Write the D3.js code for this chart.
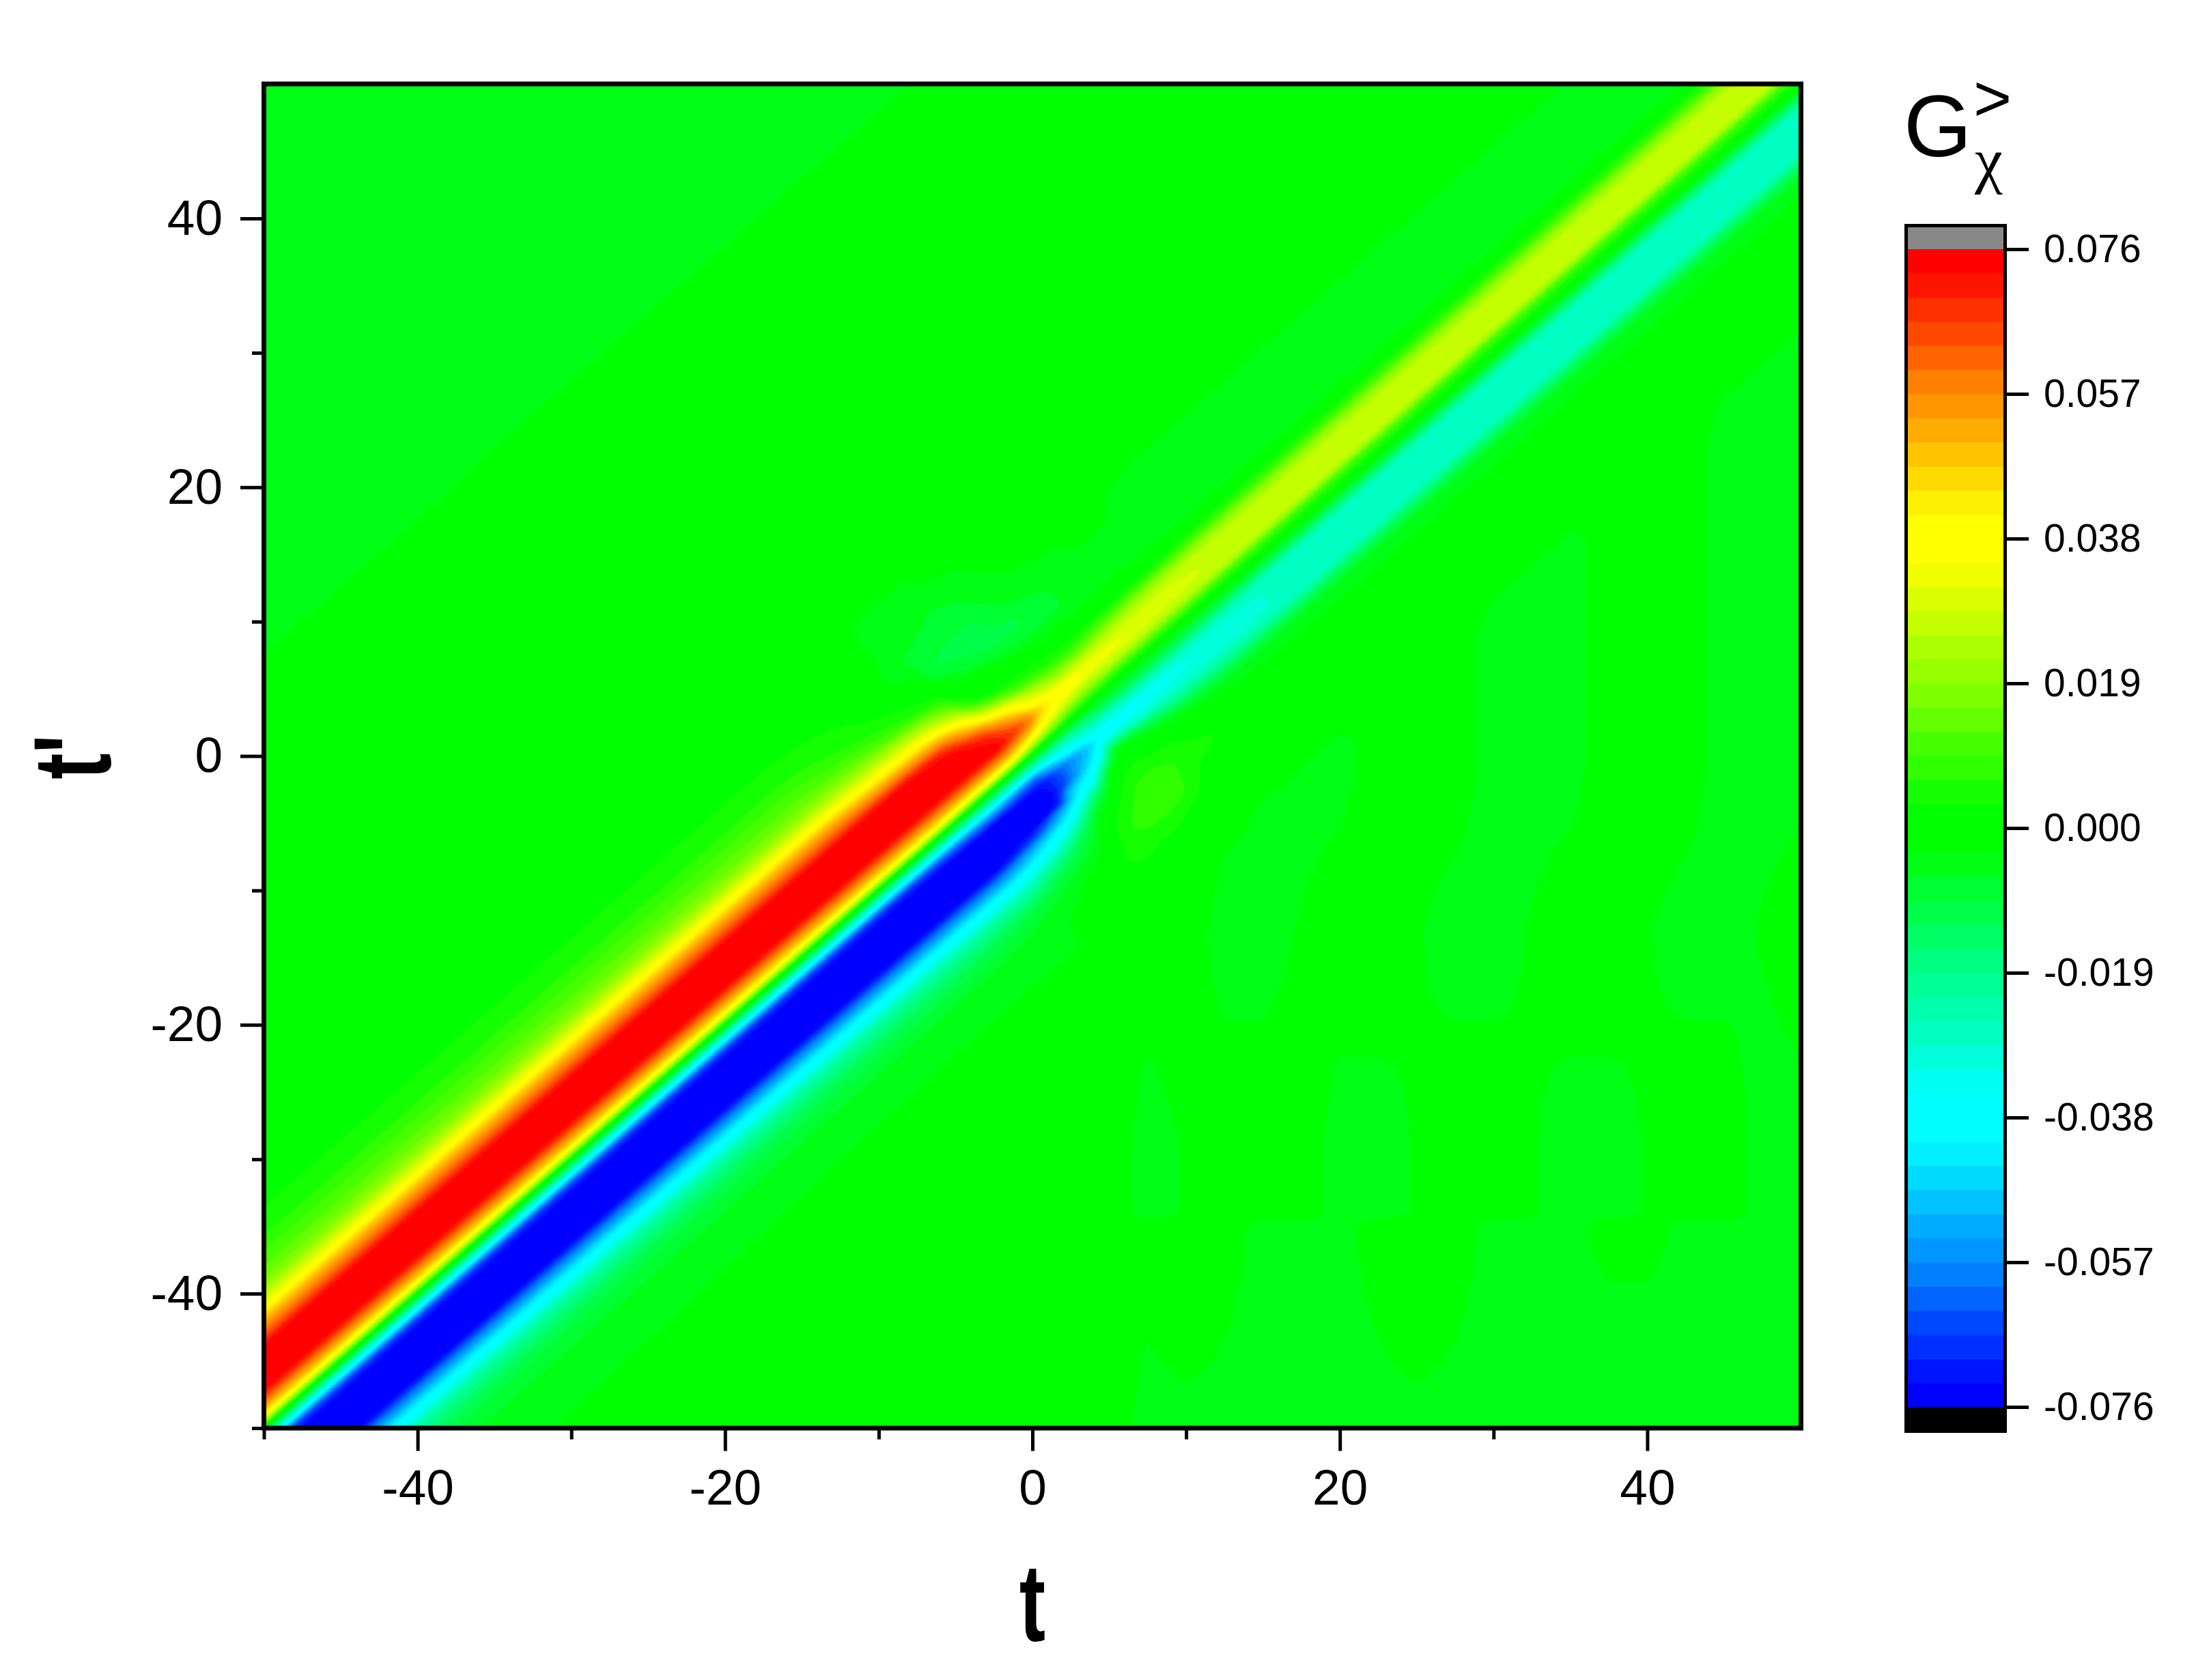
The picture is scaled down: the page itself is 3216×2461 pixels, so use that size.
<!DOCTYPE html>
<html>
<head>
<meta charset="utf-8">
<script src="https://cdnjs.cloudflare.com/ajax/libs/d3/7.8.5/d3.min.js"></script>
<style>
  html, body { margin: 0; padding: 0; background: #fff; }
  svg { display: block; }
  text { font-family: "Liberation Sans", Arial, sans-serif; fill: #000; }
</style>
</head>
<body>
<svg id="chart" width="3216" height="2461"></svg>
<script>
// tick labels
var axisMajor = [-40, -20, 0, 20, 40];
var axisMinor = [-50, -30, -10, 10, 30];
var barTicks = [0.076, 0.057, 0.038, 0.019, 0, -0.019, -0.038, -0.057, -0.076];

// colour map: 48 levels, 12 per rainbow segment
var levelCount = 48;
var levelMax = 0.076;
var bandRamp = [0, 20, 48, 72, 100, 128, 150, 172, 195, 218, 240, 255];

// G values, in 1/1000, as cross sections of the diagonal.
// sCols = t - t', midTimes = (t + t') / 2, one row of fieldRows per midTime
var sCols = [-100, -60, -35, -27, -22, -18, -15, -13, -11, -9.5, -8, -7, -6, -5, -4, -3, -2, -1, 0, 1, 2, 3, 4, 5, 6, 7, 8, 9, 10, 12, 14, 17, 20, 30];
var midTimes = [-50, -10, -6, -3, -1, 0, 1, 2, 3, 4, 5, 7, 10, 15, 30, 50];
var fieldRows = [
  [-3.5,-3.2,-2.5,-2,0.5,2,5,10,17,31,51,63,74,76,76,74,60,40,0,-34,-68,-76,-76,-76,-74,-60,-45,-33,-22,-11,-6,-4,-1,0],
  [-3.5,-3.2,-2.5,-2,0.5,2,5,10,17,31,51,63,74,76,76,74,60,40,0,-34,-68,-76,-76,-76,-74,-60,-45,-33,-22,-11,-5,-2,0,0],
  [-3.5,-3.2,-2.5,-2.5,0,1.5,3.5,6,14,27,46,61,74,76,76,74,60,40,0,-32,-64,-76,-76,-76,-74,-60,-45,-33,-22,-9,-4,-2,0,0],
  [-3.5,-3.2,-2.5,-2.5,-2,0,0,2,7,22,41,56,70,76,76,74,60,38,-1,-30,-60,-75,-76,-76,-68,-50,-38,-26,-15,-5,-1,1,0,0],
  [-3.5,-3.2,-2.5,-2.5,-3,-4,-6,-2,2,10,24,38,50,64,72,74,60,38,-2,-30,-62,-73,-74,-72,-52,-38,-24,-12,-6,-1,3.2,1,0,0],
  [-3.5,-3.2,-2.5,-2.5,-3,-5,-7,-9,-3,0,6,18,35,50,62,68,55,32,-2,-28,-52,-66,-65,-50,-40,-24,-10,-3,1,4.5,5,1,0,0],
  [-3.5,-3.2,-2.5,-2.5,-3,-5,-8,-10,-7,-1,1,7,22,38,50,60,48,26,-3,-24,-42,-56,-52,-42,-30,-12,-3,2,5,7,5,1,0,0],
  [-3.5,-3.2,-2.5,-2.5,-3,-6,-8,-11,-9,-4,1,4,11,26,36,46,38,20,-3,-22,-36,-48,-42,-28,-7,0,4,6,7,8,5,1,0,0],
  [-3.5,-3.2,-2.5,-2.5,-2,-5,-8,-10,-10,-6,0,3,8,18,30,39,32,15,-3,-18,-30,-39,-24,-5,0,3,5,7,8,8,4,1,0,0],
  [-3.5,-3.2,-2.5,-2.5,-2,-4,-6,-8,-10,-7,-2,2,5,14,26,37,28,13,-3,-15,-30,-37,-26,-8,-1,2,4,6,7,6,3,0,0,0],
  [-3.5,-3.2,-2.5,-2.5,-2,-3,-4,-6,-9,-7,-3,1,5,13,26,34,27,12,-3,-14,-28,-36,-29,-14,-4,1,3,4,4,3,1,0,0,0],
  [-3.5,-3.2,-2.5,-2.5,-1,-2,-3,-4,-6,-6,-3,0,6,16,27,32,27,11,-3,-13,-27,-33,-30,-21,-10,-3,0,2,3,2,0,0,0,0],
  [-3.5,-3.2,-2.5,-2.5,-2,-2.5,-3,-3,-4,-4,-3,0,7,19,28,30,26,11,-2,-13,-26,-31,-30,-24,-14,-6,-3,-1,0,0,0,0,0,0],
  [-3.5,-3.2,-2.5,-2.5,-2,-2.5,-3.3,-4,-4,-4,-3.5,1,8,20,27,27.5,26,10,-1,-14,-27,-28,-28,-26,-15,-6,-3.5,-2.5,-1,0,0,0,0,0],
  [-3.5,-3.2,-2.5,-2.5,-2,-2.5,-3.3,-4,-4,-4,-3.5,1,8,20,27,27.5,26,10,0,-14,-27,-28,-28,-26,-15,-6,-3.5,-2.5,-1,0,0,0,0,0],
  [-3.5,-3.2,-2.5,-2.5,-2,-2.5,-3.3,-4,-4,-4,-3.5,1,8,20,27,27.5,26,10,0,-14,-27,-28,-28,-26,-15,-6,-3.5,-2.5,-1,0,0,0,0,0]
];

// faint stripes in the lower right of the map, also in 1/1000
var stripeT = [5, 7.5, 10, 12.5, 15, 17.5, 20, 22.5, 25, 27.5, 30, 32.5, 35, 37.5, 40, 42.5, 45, 47.5, 50];
var stripeTp = [-50, -42, -35, -34, -29, -13, 0];
var stripeRows = [
  [-2,-4,-4,-4,-4,-4,-4,-4,-4,-4,-4,-4,-4,-4,-4,-4,-4,-4,-4],
  [-2,-3,-2,-3,-4,-4,-4,-3,-2,-3,-4,-4,-4,-4,-4,-4,-4,-4,-4],
  [-2,-2,-2,-2,-4,-4,-4,-2,-2,-2,-4,-4,-4,-2,-2,-4,-4,-4,-4],
  [-2,-4,-3,-2,-2,-2,-4,-4,-3,-2,-2,-3,-4,-4,-3,-2,-2,-4,-4],
  [-2,-4,-3,-2,-2,-2,-4,-4,-3,-2,-2,-3,-4,-4,-3,-2,-2,-4,-4],
  [-2,-2,-2,-4,-4,-3,-2,-2,-3,-4,-4,-3,-2,-2,-3,-4,-4,-3,-2],
  [-2,-2,-2,-2,-4,-4,-4,-2,-2,-2,-4,-4,-4,-2,-2,-2,-4,-4,-4]
];

var svg = d3.select("#chart");

var xScale = d3.scaleLinear().domain([-50, 50]).range([386.5, 2637.5]);
var yScale = d3.scaleLinear().domain([-50, 50]).range([2092, 123]);
var barY = d3.scaleLinear().domain([-levelMax, levelMax]).range([2061, 365]);

// palette of the 48 bands, blue to red
function bandColor(i) {
  if (i < 12) return d3.rgb(0, bandRamp[i], 255) + "";
  if (i < 24) return d3.rgb(0, 255, bandRamp[23 - i]) + "";
  if (i < 36) return d3.rgb(bandRamp[i - 24], 255, 0) + "";
  return d3.rgb(255, bandRamp[47 - i], 0) + "";
}
var bandStep = 2 * levelMax / levelCount;
var levels = d3.range(levelCount).map(function(i) {
  return { i: i, low: -levelMax + i * bandStep, high: -levelMax + (i + 1) * bandStep, color: bandColor(i) };
});

// monotone cubic tangents, keeps the plateaus flat
function tangents(xs, ys) {
  var n = xs.length, d = [], m = new Array(n);
  for (var i = 0; i < n - 1; i++) d[i] = (ys[i + 1] - ys[i]) / (xs[i + 1] - xs[i]);
  m[0] = d[0];
  m[n - 1] = d[n - 2];
  for (var k = 1; k < n - 1; k++) {
    if (d[k - 1] * d[k] <= 0) { m[k] = 0; continue; }
    var w1 = 2 * (xs[k + 1] - xs[k]) + (xs[k] - xs[k - 1]);
    var w2 = (xs[k + 1] - xs[k]) + 2 * (xs[k] - xs[k - 1]);
    m[k] = (w1 + w2) / (w1 / d[k - 1] + w2 / d[k]);
  }
  return m;
}

function hermite(xs, ys, ms, x) {
  if (x <= xs[0]) return ys[0];
  if (x >= xs[xs.length - 1]) return ys[ys.length - 1];
  var i = d3.bisectRight(xs, x) - 1;
  var h = xs[i + 1] - xs[i], u = (x - xs[i]) / h, u2 = u * u, u3 = u2 * u;
  return (2 * u3 - 3 * u2 + 1) * ys[i] + (u3 - 2 * u2 + u) * h * ms[i] +
         (-2 * u3 + 3 * u2) * ys[i + 1] + (u3 - u2) * h * ms[i + 1];
}

// cross sections at a fine step of (t + t') / 2
var colData = sCols.map(function(s, c) {
  var ys = fieldRows.map(function(r) { return r[c]; });
  return { ys: ys, ms: tangents(midTimes, ys) };
});
var fineStep = 0.25;
var fineRows = d3.range(0, 401).map(function(k) {
  var T = -50 + k * fineStep;
  var ys = colData.map(function(c) { return hermite(midTimes, c.ys, c.ms, T); });
  return { ys: ys, ms: tangents(sCols, ys) };
});

function stripeAt(t, tp) {
  var cx = Math.max(stripeT[0], Math.min(stripeT[stripeT.length - 1] - 1e-6, t));
  var cy = Math.max(stripeTp[0], Math.min(stripeTp[stripeTp.length - 1] - 1e-6, tp));
  var i = d3.bisectRight(stripeT, cx) - 1, j = d3.bisectRight(stripeTp, cy) - 1;
  var fx = (cx - stripeT[i]) / (stripeT[i + 1] - stripeT[i]);
  var fy = (cy - stripeTp[j]) / (stripeTp[j + 1] - stripeTp[j]);
  var a = stripeRows[j][i] * (1 - fx) + stripeRows[j][i + 1] * fx;
  var b = stripeRows[j + 1][i] * (1 - fx) + stripeRows[j + 1][i + 1] * fx;
  return a * (1 - fy) + b * fy;
}

function fieldAt(t, tp) {
  var s = t - tp, T = (t + tp) / 2;
  var q = Math.max(0, Math.min(399.999, (T + 50) / fineStep));
  var k = Math.floor(q), f = q - k;
  var a = fineRows[k], b = fineRows[k + 1];
  var v = hermite(sCols, a.ys, a.ms, s) * (1 - f) + hermite(sCols, b.ys, b.ms, s) * f;
  if (s > 12) v += stripeAt(t, tp) * Math.min(1, (s - 12) / 8);
  return Math.max(-76, Math.min(76, v)) / 1000;
}

// sample the map on a grid a little larger than the plot, then contour it
var cell = 3;
var originX = xScale.range()[0] - 2 * cell;
var originY = yScale.range()[1] - 2 * cell;
var gridW = Math.ceil((xScale.range()[1] - xScale.range()[0]) / cell) + 4;
var gridH = Math.ceil((yScale.range()[0] - yScale.range()[1]) / cell) + 4;
var gridValues = new Float64Array(gridW * gridH);
for (var j = 0; j < gridH; j++) {
  var tp = yScale.invert(originY + (j + 0.5) * cell);
  for (var i = 0; i < gridW; i++) {
    gridValues[j * gridW + i] = fieldAt(xScale.invert(originX + (i + 0.5) * cell), tp);
  }
}

var contourGen = d3.contours().size([gridW, gridH]).thresholds(levels.slice(1).map(function(d) { return d.low; }));
var shapes = contourGen(gridValues);

svg.append("defs").append("clipPath").attr("id", "plotClip")
  .append("rect")
    .attr("x", xScale.range()[0])
    .attr("y", yScale.range()[1])
    .attr("width", xScale.range()[1] - xScale.range()[0])
    .attr("height", yScale.range()[0] - yScale.range()[1]);

var mapLayer = svg.append("g").attr("clip-path", "url(#plotClip)");

mapLayer.append("rect")
    .attr("x", xScale.range()[0])
    .attr("y", yScale.range()[1])
    .attr("width", xScale.range()[1] - xScale.range()[0])
    .attr("height", yScale.range()[0] - yScale.range()[1])
    .attr("fill", levels[0].color);

var pathGen = d3.geoPath();
mapLayer.append("g")
    .attr("transform", "translate(" + originX + "," + originY + ") scale(" + cell + ")")
  .selectAll("path")
  .data(shapes)
  .enter().append("path")
    .attr("d", pathGen)
    .attr("fill", function(d, i) { return levels[i + 1].color; });

// axes
function styleAxis(g) {
  g.select(".domain").remove();
  g.selectAll("line").attr("stroke", "#000").attr("stroke-width", 5);
}

// plain hyphen as in the original, not the minus sign d3.format gives
function plainFormat(spec) {
  var fmt = d3.format(spec);
  return function(d) { return fmt(d).replace("\u2212", "-"); };
}

var bottomY = yScale.range()[0], leftX = xScale.range()[0];

svg.append("g").attr("transform", "translate(0," + bottomY + ")")
  .call(d3.axisBottom(xScale).tickValues(axisMinor).tickSize(16.5).tickFormat(""))
  .call(styleAxis);
svg.append("g").attr("transform", "translate(0," + bottomY + ")")
  .call(d3.axisBottom(xScale).tickValues(axisMajor).tickSize(33.5).tickPadding(27).tickFormat(plainFormat("d")))
  .call(styleAxis)
  .selectAll("text")
    .attr("font-family", '"Liberation Sans", Arial, sans-serif')
    .style("font-size", "73px");

svg.append("g").attr("transform", "translate(" + leftX + ",0)")
  .call(d3.axisLeft(yScale).tickValues(axisMinor).tickSize(17.5).tickFormat(""))
  .call(styleAxis);
svg.append("g").attr("transform", "translate(" + leftX + ",0)")
  .call(d3.axisLeft(yScale).tickValues(axisMajor).tickSize(34.5).tickPadding(26).tickFormat(plainFormat("d")))
  .call(styleAxis)
  .selectAll("text")
    .attr("font-family", '"Liberation Sans", Arial, sans-serif')
    .style("font-size", "73px");

// plot frame
svg.append("rect")
    .attr("x", xScale.range()[0])
    .attr("y", yScale.range()[1])
    .attr("width", xScale.range()[1] - xScale.range()[0])
    .attr("height", yScale.range()[0] - yScale.range()[1])
    .attr("fill", "none")
    .attr("stroke", "#000")
    .attr("stroke-width", 7);

// axis titles, the original glyphs are stretched to be tall
svg.append("text")
    .attr("transform", "translate(" + xScale(0) + ",2404) scale(1,1.41)")
    .attr("text-anchor", "middle")
    .attr("font-weight", "bold")
    .style("font-size", "115px")
    .text("t");

svg.append("text")
    .attr("transform", "translate(162,1109) rotate(-90) scale(1,1.41)")
    .attr("text-anchor", "middle")
    .attr("font-weight", "bold")
    .style("font-size", "115px")
    .text("t'");

// colour bar
var barLeft = 2791.5, barRight = 2936.5;
svg.append("g").selectAll("rect")
  .data(levels)
  .enter().append("rect")
    .attr("x", barLeft)
    .attr("y", function(d) { return barY(d.high); })
    .attr("width", barRight - barLeft)
    .attr("height", function(d) { return barY(d.low) - barY(d.high) + 0.5; })
    .attr("fill", function(d) { return d.color; });

svg.append("rect")
    .attr("x", barLeft).attr("y", 330.5)
    .attr("width", barRight - barLeft).attr("height", barY(levelMax) - 330.5)
    .attr("fill", "#888888");
svg.append("rect")
    .attr("x", barLeft).attr("y", barY(-levelMax))
    .attr("width", barRight - barLeft).attr("height", 2096.5 - barY(-levelMax))
    .attr("fill", "#000");
svg.append("rect")
    .attr("x", barLeft).attr("y", 330.5)
    .attr("width", barRight - barLeft).attr("height", 2096.5 - 330.5)
    .attr("fill", "none")
    .attr("stroke", "#000")
    .attr("stroke-width", 5);

svg.append("g").attr("transform", "translate(" + barRight + ",0)")
  .call(d3.axisRight(barY).tickValues(barTicks).tickSize(34.5).tickPadding(22).tickFormat(plainFormat(".3f")))
  .call(styleAxis)
  .selectAll("text")
    .attr("font-family", '"Liberation Sans", Arial, sans-serif')
    .style("font-size", "57px");

// colour bar title
svg.append("text").attr("x", 2788).attr("y", 229).style("font-size", "128px").text("G");
svg.append("text").attr("x", 2890).attr("y", 177).style("font-size", "96px").text(">");
svg.append("text")
    .attr("x", 2892).attr("y", 266)
    .style("font-size", "92px")
    .style("font-family", '"Liberation Serif", serif')
    .text("χ");
</script>
</body>
</html>
